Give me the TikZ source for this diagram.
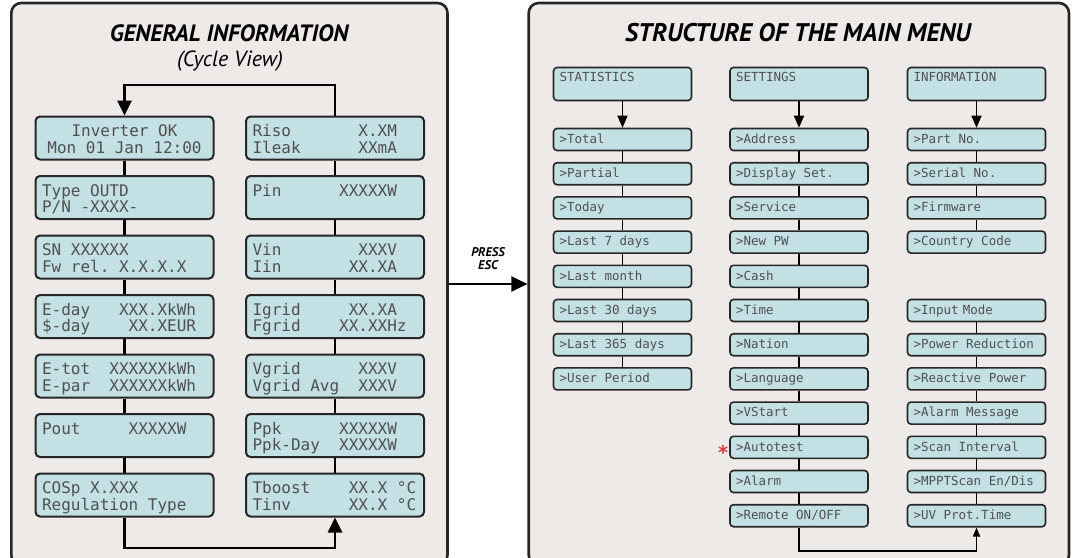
\documentclass[tikz,border=0pt]{standalone}
\usepackage{fontspec}
\setmainfont{PT Sans}
\newfontfamily\lcdfont{DejaVu Sans Mono}
\newfontfamily\ttlfont{PT Sans}
\newfontfamily\symfont{DejaVu Sans}
\usetikzlibrary{arrows.meta}
\definecolor{panelbg}{HTML}{EEEAE7}
\definecolor{lcdbg}{HTML}{C3E0E4}
\definecolor{lcdtxt}{HTML}{505050}
\definecolor{edge}{HTML}{262626}
\definecolor{starred}{HTML}{E53935}
% one blank LCD cell
\newcommand\blank{\hphantom{X}}
% one LCD line with a fixed line box
\newcommand\lcdl[1]{\rule[-1pt]{0pt}{15.5pt}\smash{#1}}
\newcommand\lcdm[1]{\rule[-1.44pt]{0pt}{10.56pt}\smash{#1}}
\begin{document}
\begin{tikzpicture}[x=1pt,y=-1pt,
  panel/.style={draw=edge, line width=2.6pt, fill=panelbg, rounded corners=10pt, inner sep=0pt},
  bigbox/.style={draw=edge, line width=2pt, fill=lcdbg, rounded corners=4.5pt,
     minimum width=178pt, minimum height=43pt, text width=165pt, inner xsep=6.5pt, inner ysep=0pt,
     align=left, font=\lcdfont\fontsize{16}{16.5}\selectfont, text=lcdtxt},
  menubox/.style={draw=edge, line width=1.6pt, fill=lcdbg, rounded corners=3.5pt,
     minimum width=138pt, minimum height=22pt, text width=126pt, inner xsep=6pt, inner ysep=0pt,
     align=left, font=\lcdfont\fontsize{12.5}{12}\selectfont, text=lcdtxt},
  headbox/.style={menubox, minimum height=33pt},
  bigline/.style={draw=black, line width=2.6pt},
  bigarrow/.style={bigline, -{Triangle[length=15pt,width=14pt]}},
  menuline/.style={draw=black, line width=1.6pt},
  menuarrow/.style={menuline, -{Triangle[length=12pt,width=10pt]}},
  smallarrow/.style={menuline, -{Triangle[length=9pt,width=7pt]}},
  esc/.style={draw=black, line width=2pt, -{Triangle[length=16pt,width=15pt]}},
  bigtitle/.style={font=\ttlfont\bfseries\itshape\fontsize{23.6}{26}\selectfont, inner sep=0pt, anchor=base},
  subtitle/.style={font=\ttlfont\itshape\fontsize{22}{24}\selectfont, inner sep=0pt, anchor=base},
  esctext/.style={font=\ttlfont\bfseries\itshape\fontsize{12.6}{14}\selectfont, inner sep=0pt, anchor=base}
]
\useasboundingbox (0,0) rectangle (1079,557);
\clip (0,0) rectangle (1079,557);

% panels
\node[panel, minimum width=436.2pt, minimum height=562pt] (lp) at (229.4,284) {};
\node[panel, minimum width=540.3pt, minimum height=562pt] (rp) at (798.85,284) {};

% titles
\node[bigtitle] (t1) at (229,41.7) {GENERAL INFORMATION};
\node[subtitle] (t2) at (230,66) {(Cycle View)};
\node[bigtitle, font=\ttlfont\bfseries\itshape\fontsize{25.5}{28}\selectfont] (t3) at (798,41.7) {STRUCTURE OF THE MAIN MENU};

% press esc
\node[esctext] (p1) at (488,256) {PRESS};
\node[esctext] (p2) at (488,269) {ESC};
\draw[esc] (lp.east) -- (rp.west);

% ---------- general information ----------
\node[bigbox, align=center] (l1) at (124.5,138) {\lcdl{Inverter\blank OK}\\\lcdl{Mon\blank 01\blank Jan\blank 12:00}};
\node[bigbox] (l2) at (124.5,197.5) {\lcdl{Type\blank OUTD}\\\lcdl{P/N\blank -XXXX-}};
\node[bigbox] (l3) at (124.5,257) {\lcdl{SN\blank XXXXXX}\\\lcdl{Fw\blank rel.\blank X.X.X.X}};
\node[bigbox] (l4) at (124.5,316.5) {\lcdl{E-day\blank\blank\blank XXX.XkWh}\\\lcdl{\$-day\blank\blank\blank\blank XX.XEUR}};
\node[bigbox] (l5) at (124.5,376) {\lcdl{E-tot\blank\blank XXXXXXkWh}\\\lcdl{E-par\blank\blank XXXXXXkWh}};
\node[bigbox] (l6) at (124.5,435.5) {\lcdl{Pout\blank\blank\blank\blank\blank XXXXXW}\\\lcdl{}};
\node[bigbox] (l7) at (124.5,495) {\lcdl{COSp\blank X.XXX}\\\lcdl{Regulation\blank Type}};

\node[bigbox] (r1) at (335,138) {\lcdl{Riso\blank\blank\blank\blank\blank\blank\blank X.XM}\\\lcdl{Ileak\blank\blank\blank\blank\blank\blank XXmA}};
\node[bigbox] (r2) at (335,197.5) {\lcdl{Pin\blank\blank\blank\blank\blank\blank XXXXXW}\\\lcdl{}};
\node[bigbox] (r3) at (335,257) {\lcdl{Vin\blank\blank\blank\blank\blank\blank\blank\blank XXXV}\\\lcdl{Iin\blank\blank\blank\blank\blank\blank\blank XX.XA}};
\node[bigbox] (r4) at (335,316.5) {\lcdl{Igrid\blank\blank\blank\blank\blank XX.XA}\\\lcdl{Fgrid\blank\blank\blank\blank XX.XXHz}};
\node[bigbox] (r5) at (335,376) {\lcdl{Vgrid\blank\blank\blank\blank\blank\blank XXXV}\\\lcdl{Vgrid\blank Avg\blank\blank XXXV}};
\node[bigbox] (r6) at (335,435.5) {\lcdl{Ppk\blank\blank\blank\blank\blank\blank XXXXXW}\\\lcdl{Ppk-Day\blank\blank XXXXXW}};
\node[bigbox] (r7) at (335,495) {\lcdl{Tboost\blank\blank\blank\blank XX.X\blank °C}\\\lcdl{Tinv\blank\blank\blank\blank\blank\blank XX.X\blank °C}};

\foreach \a/\b in {1/2,2/3,3/4,4/5,5/6,6/7} {
  \draw[bigline] (l\a) -- (l\b);
  \draw[bigline] (r\a) -- (r\b);
}
\coordinate (looptop) at (230,85);
\coordinate (loopbot) at (230,548);
\draw[bigarrow] (r1.north) |- (looptop) -| (l1.north);
\draw[bigarrow] (l7.south) |- (loopbot) -| (r7.south);

% ---------- main menu ----------
\node[headbox] (hs) at (622.5,84) {\lcdm{STATISTICS}\\\lcdm{}};
\node[headbox] (ht) at (799,84) {\lcdm{SETTINGS}\\\lcdm{}};
\node[headbox] (hi) at (976.5,84) {\lcdm{INFORMATION}\\\lcdm{}};

\foreach \t [count=\k from 0] in {>Total,>Partial,>Today,>Last\blank 7\blank days,>Last\blank month,>Last\blank 30\blank days,>Last\blank 365\blank days,>User\blank Period}
  \node[menubox] (s\k) at (622.5,{139.5+34.2*\k}) {\lcdm{\t}};
\foreach \t [count=\k from 0] in {>Address,>Display\blank Set.,>Service,>New\blank PW,>Cash,>Time,>Nation,>Language,>VStart,>Autotest,>Alarm,>Remote\blank ON/OFF}
  \node[menubox] (g\k) at (799,{139.5+34.2*\k}) {\lcdm{\t}};
\foreach \t [count=\k from 0] in {>Part\blank No.,>Serial\blank No.,>Firmware,>Country\blank Code}
  \node[menubox] (i\k) at (976.5,{139.5+34.2*\k}) {\lcdm{\t}};
\foreach \t [count=\k from 5] in {>Input Mode,>Power\blank Reduction,>Reactive\blank Power,>Alarm\blank Message,>Scan\blank Interval,>MPPTScan\blank En/Dis,>UV\blank Prot.Time}
  \node[menubox] (i\k) at (976.5,{139.5+34.2*\k}) {\lcdm{\t}};

\draw[menuarrow] (hs) -- (s0);
\draw[menuarrow] (ht) -- (g0);
\draw[menuarrow] (hi) -- (i0);
\foreach \a/\b in {0/1,1/2,2/3,3/4,4/5,5/6,6/7} \draw[menuline] (s\a) -- (s\b);
\foreach \a/\b in {0/1,1/2,2/3,3/4,4/5,5/6,6/7,7/8,8/9,9/10,10/11} \draw[menuline] (g\a) -- (g\b);
\foreach \a/\b in {0/1,1/2,2/3,5/6,6/7,7/8,8/9,9/10,10/11} \draw[menuline] (i\a) -- (i\b);
\coordinate (mloop) at (888,551);
\draw[smallarrow] (g11.south) |- (mloop) -| (i11.south);

\node[text=starred, font=\symfont\bfseries\fontsize{19}{19}\selectfont, inner sep=0pt] (ast) at (723,452) {*};
\end{tikzpicture}
\end{document}
